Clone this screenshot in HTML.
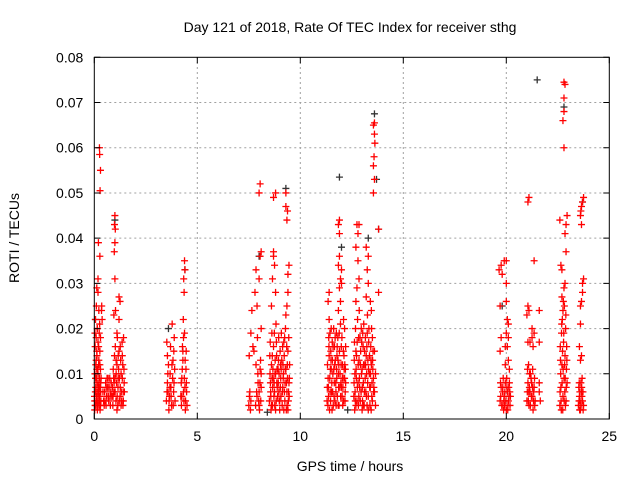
<!DOCTYPE html>
<html><head><meta charset="utf-8"><style>
html,body{margin:0;padding:0;background:#fff}
svg{display:block;font-family:"Liberation Sans",sans-serif}
</style></head><body>
<svg id="chart" width="640" height="480" viewBox="0 0 640 480" xmlns="http://www.w3.org/2000/svg">
<rect x="0" y="0" width="640" height="480" fill="#fff"/>
<g id="grid"></g>
<g id="blackMarks"></g>
<g id="redMarks"></g>
<rect x="94.3" y="57.3" width="515" height="361.7" fill="none" stroke="#000" stroke-width="1"/>
<g id="axes"></g>
<text x="350" y="32" text-anchor="middle" font-size="14">Day 121 of 2018, Rate Of TEC Index for receiver sthg</text>
<text x="350" y="471" text-anchor="middle" font-size="14">GPS time / hours</text>
<text x="19" y="238" text-anchor="middle" font-size="14" transform="rotate(-90 19 238)">ROTI / TECUs</text>
</svg>
<script>
const xTicks=[0,5,10,15,20,25];
const yTicks=[0,0.01,0.02,0.03,0.04,0.05,0.06,0.07,0.08];
const yTickLabels=["0","0.01","0.02","0.03","0.04","0.05","0.06","0.07","0.08"];
const blackPoints=[[0.05,0.022],[1.0,0.044],[4.4,0.033],[8.0,0.036],[9.3,0.051],[11.9,0.0535],[12.0,0.038],[13.3,0.04],[13.7,0.053],[13.6,0.0675],[13.8,0.042],[19.8,0.025],[21.5,0.075],[22.8,0.069],[23.7,0.048],[3.6,0.02],[12.3,0.002],[8.4,0.0015]];
const redPoints=[
[0.02,0.004],[0.05,0.006],[0.08,0.003],[0.11,0.005],[0.14,0.008],[0.17,0.004],[0.2,0.006],[0.23,0.003],[0.26,0.005],[0.29,0.007],[0.32,0.004],
[0.03,0.01],[0.07,0.012],[0.1,0.009],[0.13,0.014],[0.16,0.011],[0.19,0.007],[0.22,0.013],[0.25,0.009],[0.28,0.006],[0.31,0.008],
[0.04,0.016],[0.09,0.018],[0.12,0.015],[0.15,0.02],[0.18,0.017],[0.21,0.012],[0.24,0.019],[0.27,0.015],[0.3,0.011],
[0.06,0.022],[0.1,0.025],[0.14,0.02],[0.18,0.028],[0.22,0.024],[0.26,0.021],[0.3,0.018],[0.02,0.002],[0.15,0.002],[0.3,0.003],
[0.12,0.029],[0.18,0.031],[0.2,0.039],[0.27,0.036],[0.28,0.0505],[0.3,0.055],[0.26,0.0585],[0.25,0.06],[0.35,0.024],[0.38,0.022],[0.36,0.025],
[0.45,0.004],[0.5,0.006],[0.55,0.008],[0.6,0.005],[0.65,0.007],[0.7,0.004],[0.75,0.009],[0.8,0.006],[0.48,0.003],[0.62,0.009],[0.72,0.007],[0.85,0.005],
[0.9,0.003],[0.95,0.006],[1.0,0.009],[1.05,0.004],[1.1,0.012],[1.15,0.007],[1.2,0.015],[1.25,0.005],[1.3,0.01],[1.35,0.017],[1.4,0.006],[1.45,0.008],
[0.92,0.011],[0.98,0.014],[1.02,0.016],[1.08,0.008],[1.12,0.018],[1.18,0.011],[1.22,0.009],[1.28,0.013],[1.33,0.004],[1.38,0.012],[1.42,0.018],[1.1,0.002],[1.3,0.003],
[0.95,0.023],[1.0,0.031],[1.03,0.024],[0.97,0.037],[1.0,0.039],[0.98,0.043],[1.02,0.042],[1.0,0.045],[1.2,0.027],[1.2,0.022],[1.25,0.026],[1.1,0.019],
[3.5,0.004],[3.55,0.008],[3.6,0.012],[3.65,0.005],[3.7,0.016],[3.75,0.003],[3.8,0.009],[3.85,0.006],[3.9,0.011],[3.52,0.017],[3.62,0.002],[3.72,0.007],[3.82,0.013],[3.88,0.018],[3.58,0.006],[3.78,0.021],[3.68,0.01],[3.92,0.004],
[4.2,0.005],[4.25,0.009],[4.3,0.013],[4.35,0.004],[4.4,0.007],[4.45,0.011],[4.5,0.003],[4.28,0.016],[4.38,0.019],[4.22,0.008],[4.32,0.022],[4.42,0.002],[4.48,0.006],[4.36,0.028],[4.34,0.031],[4.4,0.033],[4.38,0.035],[4.3,0.015],
[7.5,0.003],[7.55,0.006],[7.6,0.004],[7.7,0.016],[7.6,0.019],[7.65,0.024],[7.52,0.014],[7.9,0.005],[7.95,0.008],[8.0,0.003],[8.05,0.011],[8.1,0.007],[7.85,0.012],[7.92,0.018],[8.08,0.004],[8.02,0.002],
[7.8,0.028],[7.85,0.033],[8.0,0.031],[8.05,0.036],[8.1,0.037],[8.0,0.05],[8.05,0.052],[7.75,0.015],[7.9,0.025],[8.1,0.02],
[8.5,0.004],[8.55,0.008],[8.6,0.012],[8.65,0.003],[8.7,0.016],[8.75,0.006],[8.8,0.01],[8.85,0.014],[8.9,0.005],[8.95,0.018],[9.0,0.002],[9.05,0.009],[9.1,0.013],[9.15,0.007],[9.2,0.017],[9.25,0.004],[9.3,0.011],[9.35,0.006],[9.4,0.015],[9.45,0.008],
[8.52,0.014],[8.58,0.002],[8.62,0.019],[8.68,0.009],[8.72,0.005],[8.78,0.013],[8.82,0.021],[8.88,0.007],[8.92,0.011],[8.98,0.004],[9.02,0.015],[9.08,0.019],[9.12,0.003],[9.18,0.01],[9.22,0.014],[9.28,0.02],[9.32,0.002],[9.38,0.009],[9.42,0.004],[9.48,0.012],
[8.56,0.006],[8.66,0.007],[8.76,0.003],[8.86,0.008],[8.96,0.006],[9.06,0.005],[9.16,0.012],[9.26,0.008],[9.36,0.003],[9.46,0.005],
[8.6,0.025],[8.65,0.031],[8.7,0.036],[8.7,0.037],[8.75,0.034],[8.8,0.028],[8.7,0.049],[8.8,0.05],[9.3,0.047],[9.3,0.05],[9.35,0.044],[9.38,0.046],[9.4,0.032],[9.4,0.028],[9.35,0.025],[9.45,0.034],[9.3,0.023],
[11.3,0.004],[11.35,0.009],[11.4,0.014],[11.45,0.006],[11.5,0.011],[11.55,0.017],[11.6,0.003],[11.65,0.008],[11.7,0.013],[11.75,0.019],[11.8,0.005],[11.85,0.01],[11.9,0.015],[11.95,0.021],[12.0,0.007],[12.05,0.012],[12.1,0.004],[12.15,0.009],[12.2,0.016],
[11.32,0.012],[11.38,0.018],[11.42,0.002],[11.48,0.015],[11.52,0.006],[11.58,0.01],[11.62,0.02],[11.68,0.004],[11.72,0.008],[11.78,0.014],[11.82,0.018],[11.88,0.003],[11.92,0.007],[11.98,0.012],[12.02,0.018],[12.08,0.009],[12.12,0.014],[12.18,0.006],
[11.36,0.007],[11.46,0.011],[11.56,0.013],[11.66,0.016],[11.76,0.011],[11.86,0.007],[11.96,0.005],[12.06,0.003],[12.16,0.012],[11.4,0.022],[11.35,0.026],[11.4,0.028],[11.5,0.02],
[11.85,0.024],[11.9,0.029],[11.95,0.031],[11.85,0.034],[11.9,0.036],[12.0,0.033],[11.85,0.043],[11.9,0.044],[11.9,0.041],[12.0,0.03],[11.95,0.026],[12.1,0.022],[12.15,0.02],
[12.6,0.005],[12.65,0.01],[12.7,0.015],[12.75,0.004],[12.8,0.008],[12.85,0.013],[12.9,0.018],[12.95,0.006],[13.0,0.011],[13.05,0.016],[13.1,0.003],[13.15,0.009],[13.2,0.014],[13.25,0.019],[13.3,0.005],[13.35,0.01],[13.4,0.007],[13.45,0.012],[13.5,0.004],[13.55,0.009],
[12.62,0.013],[12.68,0.02],[12.72,0.009],[12.78,0.022],[12.82,0.003],[12.88,0.007],[12.92,0.012],[12.98,0.017],[13.02,0.004],[13.08,0.021],[13.12,0.015],[13.18,0.006],[13.22,0.01],[13.28,0.013],[13.32,0.017],[13.38,0.003],[13.42,0.016],[13.48,0.008],[13.52,0.011],
[12.66,0.006],[12.76,0.017],[12.86,0.024],[12.96,0.02],[13.06,0.008],[13.16,0.018],[13.26,0.023],[13.36,0.014],[13.46,0.02],[13.56,0.006],[12.7,0.003],[13.0,0.002],[13.3,0.002],
[12.7,0.026],[12.75,0.029],[12.8,0.035],[12.85,0.031],[12.7,0.038],[12.75,0.043],[12.8,0.041],[12.85,0.043],[13.2,0.027],[13.3,0.03],[13.25,0.033],[13.3,0.036],[13.2,0.038],[13.4,0.026],[13.45,0.024],[13.5,0.018],[13.6,0.015],[13.65,0.01],[13.6,0.006],[13.65,0.003],
[13.55,0.05],[13.6,0.053],[13.55,0.056],[13.58,0.058],[13.62,0.061],[13.6,0.063],[13.55,0.065],[13.6,0.0655],[13.8,0.042],[13.8,0.028],
[19.7,0.004],[19.75,0.007],[19.8,0.003],[19.85,0.009],[19.9,0.005],[19.95,0.008],[20.0,0.002],[20.05,0.006],[20.1,0.004],[20.15,0.008],[20.2,0.005],[19.82,0.006],[19.92,0.003],[20.02,0.009],[20.12,0.007],[19.72,0.008],[20.18,0.003],
[19.7,0.015],[19.75,0.018],[19.7,0.025],[19.65,0.033],[19.75,0.034],[19.8,0.032],[19.9,0.035],[20.0,0.035],[20.0,0.03],[20.0,0.026],[20.05,0.022],[20.0,0.019],[20.1,0.021],[20.05,0.016],[20.1,0.013],[19.95,0.012],[20.15,0.011],[19.95,0.016],[20.1,0.018],
[21.0,0.004],[21.05,0.008],[21.1,0.003],[21.15,0.006],[21.2,0.009],[21.25,0.005],[21.3,0.002],[21.35,0.007],[21.4,0.004],[21.03,0.011],[21.13,0.01],[21.23,0.008],[21.33,0.006],[21.08,0.012],[21.28,0.011],[21.38,0.003],
[21.0,0.023],[21.05,0.025],[21.1,0.024],[21.05,0.017],[21.15,0.017],[21.25,0.018],[21.3,0.016],[21.35,0.019],[21.25,0.02],[21.05,0.048],[21.1,0.049],[21.35,0.035],[21.6,0.024],[21.6,0.017],[21.6,0.008],[21.65,0.004],[21.6,0.006],
[22.6,0.003],[22.65,0.007],[22.7,0.012],[22.75,0.005],[22.8,0.009],[22.85,0.014],[22.9,0.004],[22.95,0.008],[22.62,0.016],[22.68,0.019],[22.72,0.022],[22.78,0.017],[22.82,0.025],[22.88,0.02],[22.92,0.011],[22.64,0.01],[22.74,0.002],[22.84,0.006],[22.94,0.013],[22.7,0.027],[22.8,0.029],[22.85,0.03],[22.75,0.024],
[22.7,0.033],[22.65,0.034],[22.9,0.037],[22.85,0.041],[22.9,0.043],[22.95,0.045],[22.6,0.044],[22.8,0.06],[22.75,0.066],[22.8,0.068],[22.8,0.071],[22.85,0.074],[22.8,0.0745],
[23.5,0.003],[23.55,0.005],[23.6,0.002],[23.65,0.006],[23.7,0.004],[23.75,0.003],[23.52,0.007],[23.62,0.008],[23.72,0.006],[23.58,0.004],[23.68,0.009],[23.6,0.013],[23.65,0.014],[23.55,0.016],[23.6,0.021],[23.6,0.025],[23.65,0.026],[23.7,0.028],[23.75,0.031],[23.7,0.03],[23.6,0.045],[23.62,0.046],[23.65,0.047],[23.7,0.048],[23.75,0.049],[23.65,0.043]
];
const redDense=[
[0.01,0.005],[0.04,0.003],[0.07,0.007],[0.1,0.004],[0.13,0.006],[0.16,0.003],[0.19,0.005],[0.22,0.008],[0.25,0.004],[0.28,0.002],[0.31,0.006],[0.06,0.009],[0.12,0.011],[0.18,0.01],[0.24,0.007],[0.09,0.013],[0.21,0.016],[0.03,0.019],[0.27,0.012],[0.33,0.009],
[0.42,0.006],[0.52,0.004],[0.58,0.007],[0.68,0.005],[0.78,0.003],[0.82,0.008],[0.57,0.003],[0.67,0.009],[0.77,0.005],[0.88,0.007],
[0.91,0.005],[0.96,0.008],[1.01,0.006],[1.06,0.01],[1.11,0.005],[1.16,0.009],[1.21,0.004],[1.26,0.007],[1.31,0.006],[1.36,0.009],[1.41,0.004],[1.46,0.006],[1.06,0.013],[1.16,0.014],[1.26,0.016],[1.36,0.014],[1.44,0.011],[0.94,0.009],[1.14,0.003],[1.39,0.003],
[3.53,0.006],[3.63,0.004],[3.73,0.005],[3.83,0.003],[3.57,0.01],[3.67,0.007],[3.77,0.012],[3.87,0.008],[3.55,0.014],[3.86,0.015],
[4.23,0.003],[4.33,0.006],[4.43,0.004],[4.27,0.011],[4.37,0.009],[4.47,0.008],[4.25,0.005],[4.41,0.013],[4.33,0.018],[4.46,0.015],
[7.53,0.005],[7.58,0.002],[7.88,0.006],[7.98,0.004],[8.04,0.008],[7.94,0.01],[8.07,0.013],[7.83,0.003],[8.0,0.006],[8.1,0.01],
[8.53,0.01],[8.57,0.005],[8.63,0.009],[8.67,0.011],[8.73,0.008],[8.77,0.01],[8.83,0.004],[8.87,0.011],[8.93,0.008],[8.97,0.01],[9.03,0.007],[9.07,0.011],[9.13,0.006],[9.17,0.009],[9.23,0.006],[9.27,0.011],[9.33,0.008],[9.37,0.012],[9.43,0.006],[9.47,0.009],
[8.54,0.017],[8.64,0.014],[8.74,0.019],[8.84,0.017],[8.94,0.013],[9.04,0.012],[9.14,0.016],[9.24,0.018],[9.34,0.016],[9.44,0.018],[8.6,0.003],[8.8,0.002],[9.0,0.004],[9.2,0.002],[9.4,0.002],
[11.31,0.007],[11.37,0.005],[11.43,0.009],[11.47,0.004],[11.53,0.008],[11.57,0.006],[11.63,0.011],[11.67,0.012],[11.73,0.006],[11.77,0.009],[11.83,0.013],[11.87,0.012],[11.93,0.01],[11.97,0.008],[12.03,0.005],[12.07,0.007],[12.13,0.011],[12.17,0.004],[12.2,0.008],[11.34,0.003],
[11.39,0.016],[11.49,0.013],[11.59,0.016],[11.69,0.018],[11.79,0.016],[11.89,0.019],[11.99,0.016],[12.09,0.015],[12.19,0.011],[11.44,0.019],[11.64,0.005],[11.84,0.003],[12.04,0.009],[11.54,0.002],[11.74,0.003],
[12.61,0.008],[12.67,0.004],[12.71,0.011],[12.77,0.007],[12.81,0.012],[12.87,0.009],[12.91,0.004],[12.97,0.01],[13.01,0.007],[13.07,0.012],[13.11,0.006],[13.17,0.012],[13.21,0.005],[13.27,0.008],[13.31,0.011],[13.37,0.007],[13.41,0.01],[13.47,0.005],[13.51,0.013],[13.57,0.007],
[12.63,0.017],[12.73,0.014],[12.83,0.018],[12.93,0.015],[13.03,0.019],[13.13,0.012],[13.23,0.016],[13.33,0.02],[13.43,0.013],[13.53,0.015],[12.64,0.002],[12.84,0.005],[13.04,0.003],[13.24,0.003],[13.44,0.002],
[19.73,0.005],[19.78,0.003],[19.83,0.007],[19.88,0.004],[19.93,0.006],[19.98,0.004],[20.03,0.007],[20.08,0.003],[20.13,0.005],[20.17,0.006],[19.87,0.002],[20.07,0.002],
[21.02,0.006],[21.07,0.004],[21.12,0.007],[21.17,0.003],[21.22,0.005],[21.27,0.007],[21.32,0.004],[21.37,0.009],[21.17,0.01],[21.09,0.006],
[22.61,0.006],[22.66,0.004],[22.71,0.008],[22.76,0.011],[22.81,0.004],[22.86,0.009],[22.91,0.007],[22.63,0.013],[22.73,0.015],[22.83,0.012],[22.93,0.016],[22.69,0.021],[22.79,0.019],[22.89,0.023],[22.77,0.026],[22.67,0.002],[22.87,0.003],
[23.53,0.004],[23.57,0.006],[23.63,0.003],[23.67,0.005],[23.73,0.002],[23.56,0.002],[23.66,0.007],[23.54,0.008]
];
const X0=94.3,X1=609.3,Y0=419,Y1=57.3,XMAX=25,YMAX=0.08;
function xs(v){return X0+(X1-X0)*v/XMAX;}
function ys(v){return Y0-(Y0-Y1)*v/YMAX;}
const NS="http://www.w3.org/2000/svg";
const grid=document.getElementById('grid'),axes=document.getElementById('axes');
function mk(tag,attrs,parent){const e=document.createElementNS(NS,tag);for(const k in attrs)e.setAttribute(k,attrs[k]);parent.appendChild(e);return e;}
xTicks.forEach((t,i)=>{const x=xs(t);
 if(i>0&&i<xTicks.length-1){const g=mk('line',{x1:x,x2:x,y1:Y0,y2:Y1,stroke:'#a0a0a0','stroke-dasharray':'2,3'},grid);
 
 }
 const tk=mk('path',{d:`M${x},${Y0}v-6M${x},${Y1}v6`,stroke:'#000'},axes);
 
 
 const l=mk('text',{x:x,y:Y0+22,'text-anchor':'middle','font-size':'14'},axes);l.textContent=String(t);
 
 });
yTicks.forEach((t,i)=>{const y=ys(t);
 if(i>0&&i<yTicks.length-1){const g=mk('line',{x1:X0,x2:X1,y1:y,y2:y,stroke:'#a0a0a0','stroke-dasharray':'2,3'},grid);
 
 }
 const tk=mk('path',{d:`M${X0},${y}h6M${X1},${y}h-6`,stroke:'#000'},axes);
 
 
 const l=mk('text',{x:X0-11,y:y+5,'text-anchor':'end','font-size':'14'},axes);l.textContent=yTickLabels[i];
 
 });
function plus(p,color,parent){const x=xs(p[0]),y=ys(p[1]);
 const e=mk('path',{d:`M${x-3.5},${y}h7M${x},${y-3.5}v7`,stroke:color,'stroke-width':'1.3'},parent);
 
 }
blackPoints.forEach(p=>plus(p,'#333',document.getElementById('blackMarks')));
redPoints.forEach(p=>plus(p,'#ff0000',document.getElementById('redMarks')));
redDense.forEach(p=>plus(p,'#ff0000',document.getElementById('redMarks')));
</script>
</body></html>
